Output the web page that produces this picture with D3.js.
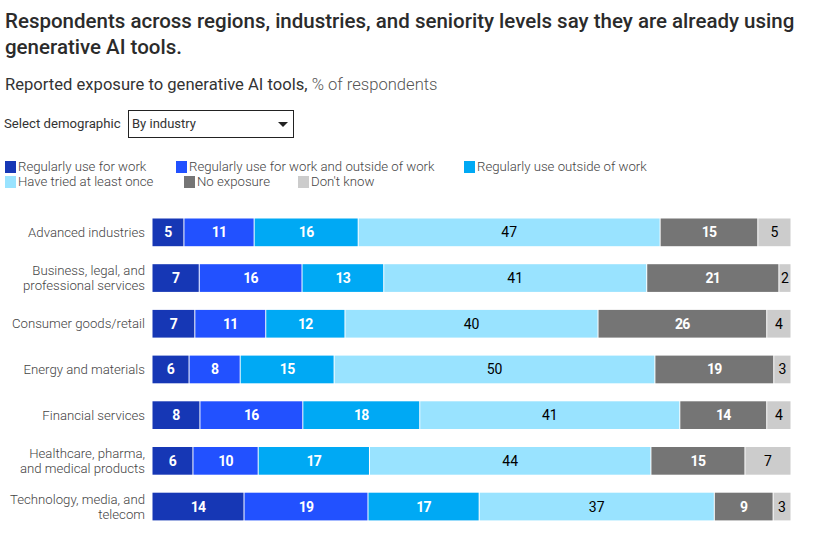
<!DOCTYPE html>
<html><head><meta charset="utf-8">
<script src="https://cdnjs.cloudflare.com/ajax/libs/d3/7.8.5/d3.min.js"></script>
<style>html,body{margin:0;background:#fff}svg{display:block}text{font-family:Roboto,sans-serif}</style>
</head><body><svg id="c" width="817" height="545"></svg>
<script>
const categories=[["Advanced industries"],["Business, legal, and","professional services"],["Consumer goods/retail"],["Energy and materials"],["Financial services"],["Healthcare, pharma,","and medical products"],["Technology, media, and","telecom"]];
const seriesNames=["Regularly use for work","Regularly use for work and outside of work","Regularly use outside of work","Have tried at least once","No exposure","Don't know"];
const seriesColors=["#1637b5","#2251ff","#00a9f4","#99e3ff","#757575","#cccccc"];
const labelColors=["#fff","#fff","#fff","#000","#fff","#000"];
const regularWork=[5.0,7.4,6.7,5.8,7.5,6.4,14.4];
const regularBoth=[11.0,16.1,11.1,8.0,16.1,10.2,19.4];
const regularOutside=[16.3,12.8,12.4,14.7,18.3,17.4,17.4];
const triedOnce=[47.3,41.2,39.6,50.2,40.7,44.0,36.8];
const noExposure=[15.3,20.7,26.4,18.6,13.6,14.7,9.2];
const dontKnow=[5.2,1.9,3.8,2.7,3.8,7.2,2.8];
const seriesValues=[regularWork,regularBoth,regularOutside,triedOnce,noExposure,dontKnow];
const titleLines=["Respondents across regions, industries, and seniority levels say they are already using","generative AI tools."];

const svg=d3.select("#c");
titleLines.forEach((t,i)=>svg.append("text").attr("x",5).attr("y",28+i*26).attr("font-size",20.5).attr("font-weight",500).attr("fill","#2b2b2b").text(t));
const sub=svg.append("text").attr("x",5).attr("y",90).attr("font-size",16.6).attr("fill","#333");
sub.append("tspan").attr("font-weight",400).text("Reported exposure to generative AI tools, ");
sub.append("tspan").attr("font-weight",300).attr("fill","#555").text("% of respondents");
svg.append("text").attr("x",4).attr("y",128).attr("font-size",13.2).attr("fill","#333").text("Select demographic");
svg.append("rect").attr("x",128.5).attr("y",110.5).attr("width",165).attr("height",27).attr("fill","#fff").attr("stroke","#222").attr("stroke-width",1);
svg.append("text").attr("x",132).attr("y",128).attr("font-size",13).attr("fill","#333").text("By industry");
svg.append("path").attr("d",d3.line()([[278,122],[288,122],[283,127]])+"Z").attr("fill","#222");

const legendPos=[[5,171],[176,171],[464,171],[5,186],[184,186],[298,186]];
const lg=svg.append("g").selectAll("g").data(seriesNames).join("g").attr("transform",(d,i)=>`translate(${legendPos[i]})`);
lg.append("rect").attr("y",-10).attr("width",11).attr("height",12).attr("fill",(d,i)=>seriesColors[i]);
lg.append("text").attr("x",13).attr("font-size",13.2).attr("font-weight",300).attr("fill","#444").text(d=>d);

const x=d3.scaleLinear().domain([0,1]).range([152,791]);
const step=45.7, n=categories.length;
const y=d3.scaleBand().domain(d3.range(n)).range([218.5-(step-27.7)/2,218.5-(step-27.7)/2+step*n]).paddingInner(1-27.7/step).paddingOuter((1-27.7/step)/2);
const rows=categories.map((c,i)=>{const r={};seriesNames.forEach((s,j)=>r[j]=seriesValues[j][i]);return r;});
const stack=d3.stack().keys(d3.range(seriesNames.length)).offset(d3.stackOffsetExpand)(rows);
const cols=svg.append("g").selectAll("g").data(stack).join("g");
cols.selectAll("rect").data(d=>d.map((p,i)=>({p,i}))).join("rect")
 .attr("x",d=>x(d.p[0])+.5).attr("y",d=>y(d.i)).attr("width",d=>x(d.p[1])-x(d.p[0])-1).attr("height",y.bandwidth()).attr("fill",function(){return seriesColors[d3.select(this.parentNode).datum().key]});
cols.selectAll("text").data((d,k)=>d.map((p,i)=>({p,i,k}))).join("text")
 .attr("x",d=>(x(d.p[0])+x(d.p[1]))/2).attr("y",d=>y(d.i)+y.bandwidth()/2+5)
 .attr("text-anchor","middle").attr("font-size",14).attr("font-weight",d=>labelColors[d.k]=="#fff"?700:400)
 .attr("letter-spacing",d=>labelColors[d.k]=="#fff"?-0.7:0)
 .attr("fill",d=>labelColors[d.k]).text(d=>d3.format(".0f")(seriesValues[d.k][d.i]));
const yl=svg.append("g").selectAll("text").data(categories).join("text").attr("text-anchor","end").attr("font-size",13.2).attr("font-weight",300).attr("fill","#444");
yl.each(function(d,i){const c=y(i)+y.bandwidth()/2;d.forEach((l,j)=>d3.select(this).append("tspan").attr("x",145).attr("y",c+4.5+(j-(d.length-1)/2)*15).text(l));});
</script></body></html>
